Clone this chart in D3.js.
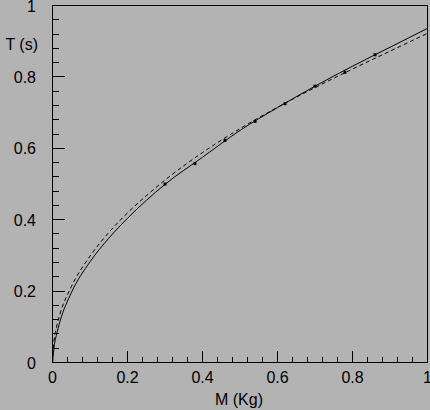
<!DOCTYPE html>
<html>
<head>
<meta charset="utf-8">
<script src="https://cdn.jsdelivr.net/npm/d3@7"></script>
<style>
  body { margin: 0; background: #b3b3b3; }
  svg { display: block; }
  text { font-family: "Liberation Sans", Arial, sans-serif; fill: #000; }
</style>
</head>
<body>
<div class="chart"></div>
<script>
// measured points
var massPts = [0.30, 0.38, 0.46, 0.54, 0.62, 0.70, 0.78, 0.86];
var periodPts = [0.500, 0.557, 0.622, 0.675, 0.725, 0.774, 0.813, 0.862];

// solid fit curve
var solidM = [0, 0.005, 0.01, 0.02, 0.05, 0.1, 0.15, 0.2, 0.25, 0.3, 0.4, 0.5, 0.6, 0.7, 0.8, 0.9, 1.0];
var solidT = [0, 0.05, 0.075, 0.115, 0.195, 0.282, 0.348, 0.404, 0.454, 0.499, 0.575, 0.65, 0.714, 0.774, 0.83, 0.883, 0.936];

// dashed curve
var dashM = [0, 0.005, 0.01, 0.02, 0.05, 0.1, 0.15, 0.2, 0.25, 0.3, 0.4, 0.5, 0.6, 0.7, 0.8, 0.9, 1.0];
var dashT = [0, 0.069, 0.096, 0.136, 0.212, 0.298, 0.364, 0.419, 0.467, 0.511, 0.588, 0.655, 0.715, 0.770, 0.822, 0.872, 0.922];

var xTicks = [0, 0.2, 0.4, 0.6, 0.8, 1];
var yTicks = [0, 0.2, 0.4, 0.6, 0.8, 1];
var minorTicks = [0.04, 0.08, 0.12, 0.16, 0.24, 0.28, 0.32, 0.36, 0.44, 0.48, 0.52, 0.56,
                  0.64, 0.68, 0.72, 0.76, 0.84, 0.88, 0.92, 0.96];

var width = 430, height = 410;

var svg = d3.select(".chart").append("svg")
    .attr("width", width)
    .attr("height", height);

var x = d3.scaleLinear().domain([0, 1]).range([52.5, 427.5]);
var y = d3.scaleLinear().domain([0, 1]).range([362.5, 5.5]);

// ticks, pointing inward
function tickLines(vals, len, horiz) {
    svg.append("g").selectAll("line")
        .data(vals).enter().append("line")
        .attr("x1", function (d) { return horiz ? x(d) : x(0); })
        .attr("x2", function (d) { return horiz ? x(d) : x(0) + len; })
        .attr("y1", function (d) { return horiz ? y(0) : y(d); })
        .attr("y2", function (d) { return horiz ? y(0) - len : y(d); })
        .attr("stroke", "#000")
        .attr("stroke-width", 1)
        .attr("shape-rendering", "crispEdges");
}
tickLines(xTicks, 12, true);
tickLines(minorTicks, 6, true);
tickLines(yTicks, 12, false);
tickLines(minorTicks, 6, false);

// frame
svg.append("rect")
    .attr("x", x(0))
    .attr("y", y(1))
    .attr("width", x(1) - x(0))
    .attr("height", y(0) - y(1))
    .attr("fill", "none")
    .attr("stroke", "#000")
    .attr("stroke-width", 1.5)
    .attr("shape-rendering", "crispEdges");

// tick labels
svg.append("g").selectAll("text")
    .data(xTicks).enter().append("text")
    .attr("x", function (d) { return x(d); })
    .attr("y", 383)
    .attr("text-anchor", "middle")
    .style("font-size", "16px")
    .text(function (d) { return d3.format("")(d); });

svg.append("g").selectAll("text")
    .data(yTicks).enter().append("text")
    .attr("x", 36)
    .attr("y", function (d) { return y(d) + 6; })
    .attr("text-anchor", "end")
    .style("font-size", "16px")
    .text(function (d) { return d3.format("")(d); });

// axis titles
svg.append("text")
    .attr("x", 38)
    .attr("y", 50)
    .attr("text-anchor", "end")
    .style("font-size", "16px")
    .text("T (s)");

svg.append("text")
    .attr("x", 239)
    .attr("y", 405)
    .attr("text-anchor", "middle")
    .style("font-size", "16px")
    .text("M (Kg)");

// curves
var line = d3.line()
    .x(function (d) { return x(d[0]); })
    .y(function (d) { return y(d[1]); })
    .curve(d3.curveMonotoneX);

svg.append("path")
    .datum(d3.zip(dashM, dashT))
    .attr("d", line)
    .attr("fill", "none")
    .attr("stroke", "#000")
    .attr("stroke-width", 1)
    .attr("stroke-dasharray", "4,3");

svg.append("path")
    .datum(d3.zip(solidM, solidT))
    .attr("d", line)
    .attr("fill", "none")
    .attr("stroke", "#000")
    .attr("stroke-width", 1);

// data points
svg.append("g").selectAll("rect")
    .data(d3.zip(massPts, periodPts)).enter().append("rect")
    .attr("x", function (d) { return x(d[0]) - 1.5; })
    .attr("y", function (d) { return y(d[1]) - 1.5; })
    .attr("width", 3)
    .attr("height", 3)
    .attr("fill", "#000");
</script>
</body>
</html>
